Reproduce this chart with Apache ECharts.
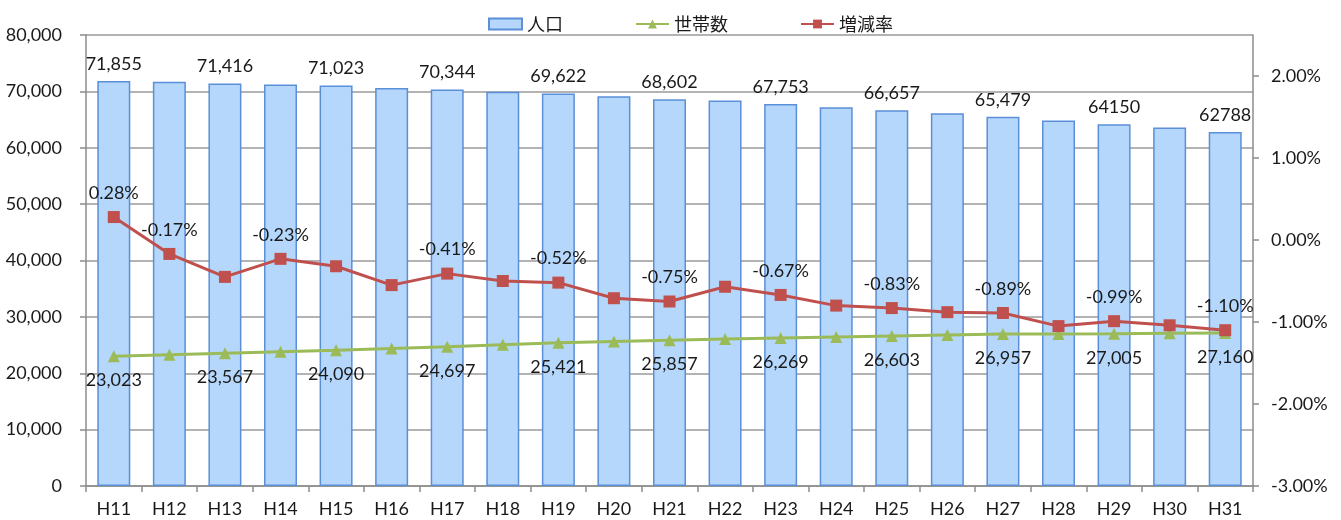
<!DOCTYPE html>
<html>
<head>
<meta charset="utf-8">
<script src="https://cdn.jsdelivr.net/npm/echarts@6/dist/echarts.min.js"></script>
<style>
html,body{margin:0;padding:0;background:#fff;}
#chart{width:1341px;height:520px;}
</style>
</head>
<body>
<div id="chart"></div>
<script>
// ---- data ----
const categories = ['H11','H12','H13','H14','H15','H16','H17','H18','H19','H20','H21','H22','H23','H24','H25','H26','H27','H28','H29','H30','H31'];
const population = [71855,71700,71416,71200,71023,70600,70344,69950,69622,69140,68602,68365,67753,67175,66657,66110,65479,64815,64150,63610,62788];
const households = [23023,23300,23567,23830,24090,24380,24697,25060,25421,25640,25857,26060,26269,26440,26603,26780,26957,26980,27005,27080,27160];
const growthRate = [0.28,-0.17,-0.45,-0.23,-0.32,-0.55,-0.41,-0.50,-0.52,-0.71,-0.75,-0.57,-0.67,-0.80,-0.83,-0.88,-0.89,-1.05,-0.99,-1.04,-1.10];
const popLabels = ['71,855','','71,416','','71,023','','70,344','','69,622','','68,602','','67,753','','66,657','','65,479','','64150','','62788'];
const hhLabelIdx = [0,2,4,6,8,10,12,14,16,18,20];
const rateLabelIdx = [0,1,3,6,8,10,12,14,16,18,20];
const leftTicks = [0,10000,20000,30000,40000,50000,60000,70000,80000];
const rightTicks = [-3,-2,-1,0,1,2];
const seriesNames = ['人口','世帯数','増減率'];

const fmtComma = v => String(v).replace(/\B(?=(\d{3})+(?!\d))/g, ',');
const numFont = 'Lato';
const fs = 18;
const txt = '#1a1a1a';
const axisGray = '#8c8c8c';

const chart = echarts.init(document.getElementById('chart'), null, {renderer:'canvas'});
chart.setOption({
  animation: false,
  backgroundColor: '#fff',
  legend: {
    left: 483, top: 10,
    itemWidth: 33, itemHeight: 11, itemGap: 72,
    textStyle: {fontFamily: 'Noto Sans CJK JP', fontSize: 18, color: txt},
    data: [
      {name: seriesNames[0], icon: 'rect'},
      {name: seriesNames[1]},
      {name: seriesNames[2]}
    ]
  },
  grid: {left: 86, right: 88, top: 35, bottom: 34, containLabel: false},
  xAxis: {
    type: 'category', data: categories, boundaryGap: true,
    axisLine: {lineStyle: {color: axisGray, width: 1.5}},
    axisTick: {show: true, alignWithLabel: false, length: 6, lineStyle: {color: axisGray, width: 1.5}},
    axisLabel: {fontFamily: numFont, fontSize: fs, color: txt, margin: 14, interval: 0}
  },
  yAxis: [
    {
      type: 'value', min: leftTicks[0], max: leftTicks[leftTicks.length-1], interval: leftTicks[1]-leftTicks[0],
      axisLine: {show: true, lineStyle: {color: axisGray, width: 1.5}},
      axisTick: {show: true, length: 6, lineStyle: {color: axisGray, width: 1.5}},
      splitLine: {show: true, lineStyle: {color: '#9a9a9a', width: 1.5}},
      axisLabel: {fontFamily: numFont, fontSize: fs, color: txt, margin: 24, formatter: v => fmtComma(v)}
    },
    {
      type: 'value', min: rightTicks[0], max: 2.5, interval: rightTicks[1]-rightTicks[0],
      position: 'right',
      axisLine: {show: true, lineStyle: {color: axisGray, width: 1.5}},
      axisTick: {show: true, length: 6, lineStyle: {color: axisGray, width: 1.5}},
      splitLine: {show: false},
      axisLabel: {fontFamily: numFont, fontSize: fs, color: txt, margin: 18, showMaxLabel: false,
        formatter: v => (rightTicks.indexOf(v) >= 0 ? v.toFixed(2) + '%' : '')}
    }
  ],
  series: [
    {
      name: seriesNames[0], type: 'bar', yAxisIndex: 0, data: population, barWidth: 33,
      itemStyle: {color: '#b4d7fb', borderColor: '#5b8fd8', borderWidth: 1.5},
      label: {show: true, position: 'top', distance: 8, fontFamily: numFont, fontSize: fs, color: txt,
        formatter: p => popLabels[p.dataIndex]},
      z: 1
    },
    {
      name: seriesNames[1], type: 'line', yAxisIndex: 0, data: households,
      symbol: 'triangle', symbolSize: 12,
      lineStyle: {color: '#9bbb59', width: 3}, itemStyle: {color: '#9bbb59'},
      label: {show: true, position: 'bottom', distance: 9, fontFamily: numFont, fontSize: fs, color: txt,
        formatter: p => hhLabelIdx.indexOf(p.dataIndex) >= 0 ? fmtComma(p.value) : ''},
      z: 3
    },
    {
      name: seriesNames[2], type: 'line', yAxisIndex: 1, data: growthRate,
      symbol: 'rect', symbolSize: 12,
      lineStyle: {color: '#c0504d', width: 3}, itemStyle: {color: '#c0504d'},
      label: {show: true, position: 'top', distance: 9, fontFamily: numFont, fontSize: fs, color: txt,
        formatter: p => rateLabelIdx.indexOf(p.dataIndex) >= 0 ? p.value.toFixed(2) + '%' : ''},
      z: 4
    }
  ]
});
</script>
</body>
</html>
